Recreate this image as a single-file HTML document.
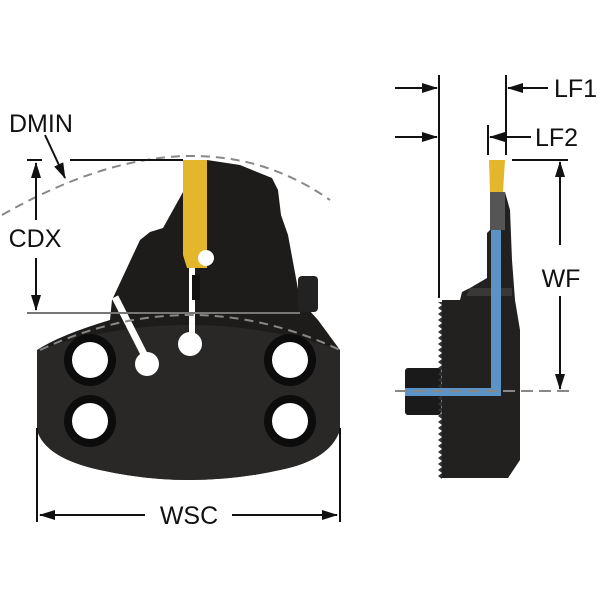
<!DOCTYPE html>
<html><head><style>html,body{margin:0;padding:0;background:#fff}svg{display:block}</style></head>
<body>
<svg width="600" height="600" viewBox="0 0 600 600" xmlns="http://www.w3.org/2000/svg" font-family="Liberation Sans, sans-serif">
<defs>
<marker id="ahb" markerWidth="16" markerHeight="10" refX="15" refY="5" orient="auto" markerUnits="userSpaceOnUse" viewBox="0 0 16 10"><path d="M0,0 L16,5 L0,10 Z" fill="#111"/></marker>
</defs>
<path d="M37,350 Q60,335 110,320 L112,300 L140,240 L150,232 L163,228 L183,192 L183,160 L207,160 L240,165 L272,178 L278,190 L281,215 L288,235 L293,262 L300,300 L318,320 L340,350 L340,430 Q330,460 280,470 Q190,490 100,470 Q45,458 37,430 Z" fill="#1e1c1b"/>
<path d="M37,350 Q190,300 340,350 L340,430 Q330,460 280,470 Q190,490 100,470 Q45,458 37,430 Z" fill="#2a2827"/>
<path d="M183,160 L207,160 L207,268 L187,268 L183,255 Z" fill="#e4b62c"/>
<rect x="298" y="276" width="20" height="36" rx="4" fill="#222"/>
<g fill="#0d0c0c"><circle cx="90" cy="360" r="26"/><circle cx="90" cy="421" r="26"/><circle cx="290" cy="360" r="26"/><circle cx="290" cy="421" r="26"/></g>
<g fill="#fff"><circle cx="90" cy="360" r="18"/><circle cx="90" cy="421" r="18"/><circle cx="290" cy="360" r="18"/><circle cx="290" cy="421" r="18"/></g>
<path d="M115,297 L148,362" stroke="#fff" stroke-width="7"/>
<circle cx="147" cy="364" r="12" fill="#fff"/>
<rect x="189" y="268" width="6" height="75" fill="#fff"/>
<circle cx="190" cy="344" r="12" fill="#fff"/>
<circle cx="206" cy="258" r="8" fill="#fff"/>
<rect x="192" y="275" width="8" height="25" fill="#111"/>
<path d="M2,215 Q195,105 330,200" fill="none" stroke="#888" stroke-width="2" stroke-dasharray="9,6"/>
<path d="M40,350 Q190,280 340,350" fill="none" stroke="#888" stroke-width="2" stroke-dasharray="9,6"/>
<line x1="70" y1="160" x2="183" y2="160" stroke="#111" stroke-width="2"/>
<line x1="27" y1="160" x2="42" y2="160" stroke="#111" stroke-width="2"/>
<line x1="27" y1="313" x2="300" y2="313" stroke="#777" stroke-width="2"/>
<line x1="36" y1="220" x2="36" y2="163" stroke="#111" stroke-width="2" marker-end="url(#ahb)"/>
<line x1="36" y1="258" x2="36" y2="310" stroke="#111" stroke-width="2" marker-end="url(#ahb)"/>
<text x="35" y="247" font-size="25" text-anchor="middle" fill="#111">CDX</text>
<text x="9" y="132" font-size="25" fill="#111">DMIN</text>
<line x1="45" y1="135" x2="65" y2="178" stroke="#111" stroke-width="2" marker-end="url(#ahb)"/>
<line x1="37" y1="428" x2="37" y2="522" stroke="#111" stroke-width="2"/>
<line x1="340" y1="428" x2="340" y2="522" stroke="#111" stroke-width="2"/>
<line x1="145" y1="515" x2="40" y2="515" stroke="#111" stroke-width="2" marker-end="url(#ahb)"/>
<line x1="232" y1="515" x2="337" y2="515" stroke="#111" stroke-width="2" marker-end="url(#ahb)"/>
<text x="189" y="524" font-size="25" text-anchor="middle" fill="#111">WSC</text>

<rect x="405" y="368" width="36" height="47" rx="3" fill="#1b1a1a"/>
<path d="M442,300 L460,300 L462,292 L470,288 L487,278 L487,233 L490,230 L490,192 L505,192 L510,210 L512,260 L515,300 L520,330 L520,460 L508,478 L442,478 Z" fill="#232120"/>
<path d="M490,192 L505,192 L505,230 L490,230 Z" fill="#555"/>
<path d="M470,288 L512,288 L512,296 L466,296 Z" fill="#3a3836"/>
<path d="M438,302 l4,3 l-4,3 l4,3 l-4,3 l4,3 l-4,3 l4,3 l-4,3 l4,3 l-4,3 l4,3 l-4,3 l4,3 l-4,3 l4,3 l-4,3 l4,3 l-4,3 l4,3 l-4,3 l4,3 l-4,3 l4,3 l-4,3 l4,3 l-4,3 l4,3 l-4,3 l4,3 l-4,3 l4,3 l-4,3 l4,3 l-4,3 l4,3 l-4,3 l4,3 l-4,3 l4,3 l-4,3 l4,3 l-4,3 l4,3 l-4,3 l4,3 l-4,3 l4,3 l-4,3 l4,3 l-4,3 l4,3 l-4,3 l4,3 l-4,3 l4,3 l-4,3 l4,3 l-4,3 l4,3 L442,476 L442,302 Z" fill="#333"/>
<path d="M489,160 L505,160 L503,192 L490,192 Z" fill="#e4b62c"/>
<rect x="491" y="230" width="10" height="166" fill="#5b93c7"/>
<rect x="405" y="388" width="96" height="8" fill="#5b93c7"/>
<line x1="395" y1="391" x2="570" y2="391" stroke="#888" stroke-width="2" stroke-dasharray="12,6"/>
<line x1="439" y1="75" x2="439" y2="298" stroke="#111" stroke-width="2"/>
<line x1="395" y1="88" x2="437" y2="88" stroke="#111" stroke-width="2" marker-end="url(#ahb)"/>
<line x1="395" y1="137" x2="437" y2="137" stroke="#111" stroke-width="2" marker-end="url(#ahb)"/>
<line x1="506" y1="75" x2="506" y2="155" stroke="#111" stroke-width="2"/>
<line x1="548" y1="88" x2="508" y2="88" stroke="#111" stroke-width="2" marker-end="url(#ahb)"/>
<text x="554" y="97" font-size="25" fill="#111">LF1</text>
<line x1="488" y1="125" x2="488" y2="155" stroke="#111" stroke-width="2"/>
<line x1="531" y1="137" x2="490" y2="137" stroke="#111" stroke-width="2" marker-end="url(#ahb)"/>
<text x="535" y="146" font-size="25" fill="#111">LF2</text>
<line x1="512" y1="160" x2="568" y2="160" stroke="#111" stroke-width="2"/>
<line x1="560" y1="245" x2="560" y2="162" stroke="#111" stroke-width="2" marker-end="url(#ahb)"/>
<line x1="560" y1="296" x2="560" y2="389" stroke="#111" stroke-width="2" marker-end="url(#ahb)"/>
<text x="561" y="287" font-size="25" text-anchor="middle" fill="#111">WF</text>
</svg>
</body></html>
